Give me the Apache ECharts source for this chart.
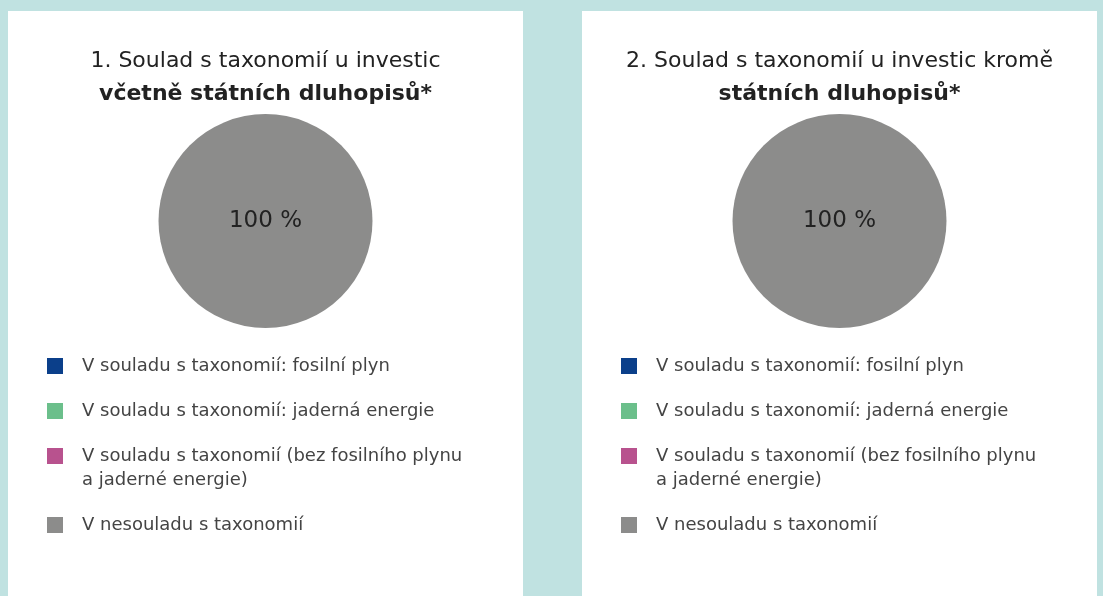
<!DOCTYPE html>
<html>
<head>
<meta charset="utf-8">
<script src="https://cdn.jsdelivr.net/npm/echarts@6/dist/echarts.min.js"></script>
<style>
  html, body { margin: 0; padding: 0; }
  #chart { width: 1103px; height: 596px; }
</style>
</head>
<body>
<div id="chart"></div>
<script>
var categories = [
    'V souladu s taxonomií: fosilní plyn',
    'V souladu s taxonomií: jaderná energie',
    'V souladu s taxonomií (bez fosilního plynu a jaderné energie)',
    'V nesouladu s taxonomií'
];
var colors = ['#0b3f8a', '#6bbf8b', '#b8528e', '#8c8c8b'];
var inclBonds = [0, 0, 0, 100];
var exclBonds = [0, 0, 0, 100];
var titleLine1 = ['1. Soulad s taxonomií u investic', '2. Soulad s taxonomií u investic kromě'];
var titleLine2 = ['včetně státních dluhopisů*', 'státních dluhopisů*'];

var font = 'DejaVu Sans';
var panels = [8, 582];
var panelW = 515;
var chart = echarts.init(document.getElementById('chart'));

// legend split in two groups so the two-line item lines up like the original
var legendGroups = [{ items: [0, 1], top: 354 }, { items: [2, 3], top: 420 }];

var title = [], legend = [], series = [], graphic = [];
[inclBonds, exclBonds].forEach(function (values, i) {
    var px = panels[i];
    var cx = px + panelW / 2;

    graphic.push({
        type: 'rect', left: px, top: 11, z: -10,
        shape: { width: panelW, height: 600 },
        style: { fill: '#ffffff' }
    });

    title.push({
        text: titleLine1[i],
        subtext: titleLine2[i],
        left: cx, top: 46, padding: 0, itemGap: 3,
        textAlign: 'center',
        textStyle: { fontFamily: font, fontSize: 22, fontWeight: 'normal', color: '#222', lineHeight: 30 },
        subtextStyle: { fontFamily: font, fontSize: 22, fontWeight: 'bold', color: '#222', lineHeight: 30 }
    });

    legendGroups.forEach(function (g) {
        legend.push({
            orient: 'vertical',
            left: px + 39, top: g.top, padding: 0,
            itemWidth: 16, itemHeight: 16, itemGap: 21,
            selectedMode: false,
            icon: 'rect',
            textStyle: { fontFamily: font, fontSize: 18, color: '#444', lineHeight: 24, padding: [0, 0, 0, 14] },
            formatter: function (name) {
                return name.replace(' a jaderné', '\na jaderné');
            },
            data: g.items.map(function (k) {
                if (k !== 2) return categories[k];
                return { name: categories[k], textStyle: { padding: [24, 0, 0, 14], rich: { x: {} } } };
            })
        });
    });

    series.push({
        type: 'pie',
        center: [cx, 221],
        radius: 107,
        silent: true,
        itemStyle: { borderWidth: 0 },
        label: {
            show: true, position: 'center',
            fontFamily: font, fontSize: 23, color: '#222',
            formatter: function (p) { return p.value > 0 ? p.value + ' %' : ''; }
        },
        labelLine: { show: false },
        data: categories.map(function (c, k) {
            return { name: c, value: values[k], itemStyle: { color: colors[k] } };
        })
    });
});

chart.setOption({
    backgroundColor: '#c0e2e1',
    animation: false,
    title: title,
    legend: legend,
    graphic: graphic,
    series: series
});
</script>
</body>
</html>
